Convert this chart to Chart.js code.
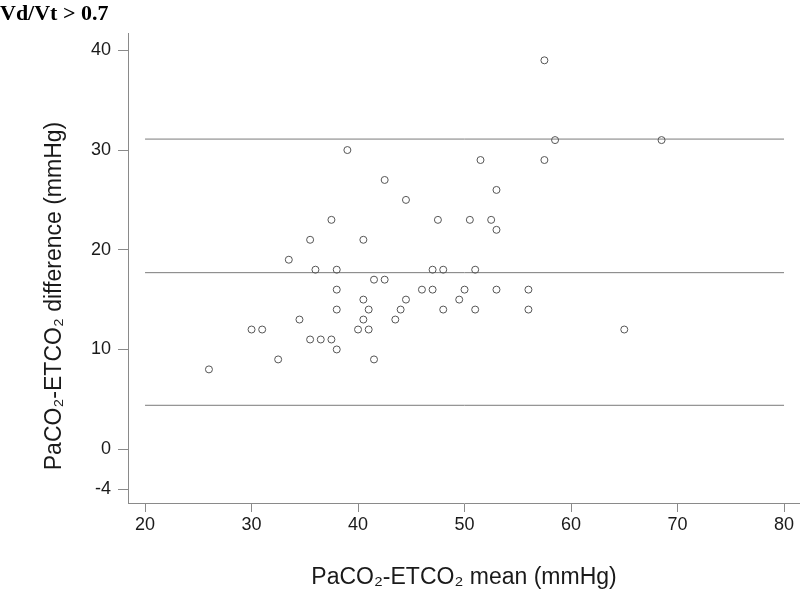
<!DOCTYPE html>
<html>
<head>
<meta charset="utf-8">
<script src="https://cdn.jsdelivr.net/npm/chart.js@4/dist/chart.umd.min.js"></script>
<style>
  html, body { margin: 0; padding: 0; background: #fff; }
  #wrap { width: 800px; height: 591px; }
</style>
</head>
<body>
<div id="wrap"><canvas id="baChart" width="800" height="591"></canvas></div>
<script>
// valores (Bland-Altman, Vd/Vt > 0.7)
const meanValues = [26, 30, 31, 32.5, 33.5, 34.5, 35.5, 35.5, 36, 36.5, 37.5, 37.5, 38, 38, 38, 38, 39, 40,
  40.5, 40.5, 40.5, 41, 41, 41.5, 41.5, 42.5, 42.5, 43.5, 44, 44.5, 44.5, 46, 47, 47, 47.5, 48, 48,
  49.5, 50, 50.5, 51, 51, 51.5, 52.5, 53, 53, 53, 56, 56, 57.5, 57.5, 58.5, 65, 68.5];
const diffValues = [8, 12, 12, 9, 19, 13, 21, 11, 18, 11, 23, 11, 18, 16, 14, 10, 30, 12,
  21, 15, 13, 14, 12, 17, 9, 27, 17, 13, 14, 25, 15, 16, 18, 16, 23, 18, 14,
  15, 16, 23, 18, 14, 29, 23, 26, 22, 16, 16, 14, 39, 29, 31, 12, 31];

// linhas de referência: limite superior, média e limite inferior
const refLines = [31.1, 17.7, 4.4];
const lineRange = [20, 80];

const xTicks = [20, 30, 40, 50, 60, 70, 80];
const yTicks = [40, 30, 20, 10, 0, -4];

const yTitle = 'PaCO₂-ETCO₂ difference (mmHg)';

const axisColor = '#8a8a8a';
const pointColor = '#555555';

const points = meanValues.map((x, i) => ({ x: x, y: diffValues[i] }));

const lineSets = refLines.map(v => ({
  type: 'line',
  data: lineRange.map(x => ({ x: x, y: v })),
  borderColor: '#7a7a7a',
  borderWidth: 1,
  pointRadius: 0,
  fill: false
}));

// título do eixo y um pouco abaixo do centro, como no original
const yTitlePlugin = {
  id: 'yTitle',
  afterDraw(chart) {
    const c = chart.ctx;
    c.save();
    c.translate(55, 296);
    c.rotate(-Math.PI / 2);
    c.font = '23px "Liberation Sans"';
    c.fillStyle = '#1a1a1a';
    c.textAlign = 'center';
    c.textBaseline = 'middle';
    c.fillText(yTitle, 0, 0);
    c.restore();
  }
};

const ctx = document.getElementById('baChart').getContext('2d');
new Chart(ctx, {
  type: 'scatter',
  data: {
    datasets: [{
      label: 'diferença',
      data: points,
      pointStyle: 'circle',
      pointRadius: 3.5,
      borderWidth: 1,
      borderColor: pointColor,
      backgroundColor: 'rgba(255,255,255,0)'
    }, ...lineSets]
  },
  plugins: [yTitlePlugin],
  options: {
    responsive: false,
    animation: false,
    layout: { padding: 0, autoPadding: false },
    plugins: {
      legend: { display: false },
      tooltip: { enabled: false },
      title: {
        display: true,
        text: 'Vd/Vt > 0.7',
        align: 'start',
        color: '#000',
        font: { family: 'Liberation Serif', size: 22, weight: 'bold' },
        padding: { top: 1, bottom: 6 }
      }
    },
    scales: {
      x: {
        type: 'linear',
        min: 18.4,
        max: 81.5,
        afterFit: s => { s.height = 88; s.paddingLeft = 0; s.paddingRight = 0; },
        afterBuildTicks: s => { s.ticks = xTicks.map(v => ({ value: v })); },
        grid: { display: true, drawOnChartArea: false, drawTicks: true, tickLength: 9, color: axisColor },
        border: { display: true, color: axisColor },
        ticks: {
          autoSkip: false,
          maxRotation: 0,
          padding: 2,
          color: '#1a1a1a',
          font: { family: 'Liberation Sans', size: 18 }
        },
        title: {
          display: true,
          text: 'PaCO₂-ETCO₂ mean (mmHg)',
          color: '#1a1a1a',
          font: { family: 'Liberation Sans', size: 23 },
          padding: { top: 0, bottom: 0 }
        }
      },
      y: {
        type: 'linear',
        min: -5.4,
        max: 41.7,
        afterFit: s => { s.width = 128; },
        afterBuildTicks: s => { s.ticks = yTicks.map(v => ({ value: v })); },
        grid: { display: true, drawOnChartArea: false, drawTicks: true, tickLength: 10, color: axisColor },
        border: { display: true, color: axisColor },
        ticks: {
          autoSkip: false,
          padding: 7,
          color: '#1a1a1a',
          font: { family: 'Liberation Sans', size: 18 }
        },
        title: { display: false }
      }
    }
  }
});
</script>
</body>
</html>
